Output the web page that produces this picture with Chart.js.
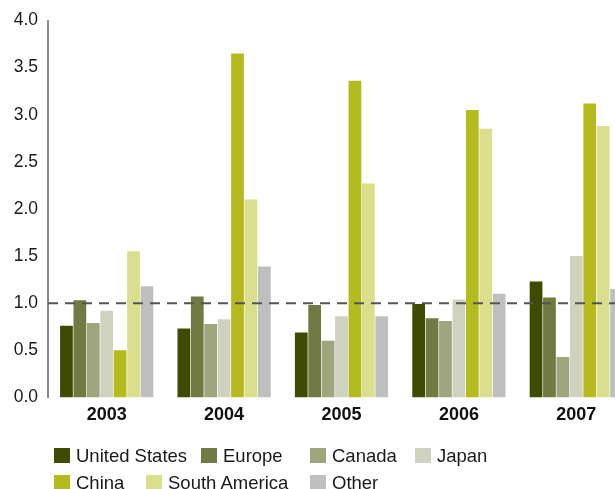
<!DOCTYPE html>
<html>
<head>
<meta charset="utf-8">
<script src="https://cdn.jsdelivr.net/npm/chart.js@4/dist/chart.umd.min.js"></script>
<style>
	html, body { margin: 0; padding: 0; background: #fff; overflow: hidden; width: 615px; height: 489px; }
	#wrap { position: absolute; left: 0; top: 0; width: 650px; height: 437px; }
	#legend { position: absolute; left: 0; top: 0; width: 615px; height: 489px; pointer-events: none;
		font-family: "Liberation Sans", Arial, sans-serif; font-size: 18.5px; color: #1a1a1a; }
	#legend div { position: absolute; white-space: nowrap; line-height: 18px; }
	#legend span { display: inline-block; width: 16px; height: 15px; vertical-align: top; margin-right: 6px; margin-top: 1px; }
</style>
</head>
<body>
<div id="wrap"><canvas id="chart"></canvas></div>
<div id="legend"></div>
<script>
var years = ["2003", "2004", "2005", "2006", "2007"];

var unitedStates = [0.76, 0.73, 0.69, 0.99, 1.23];
var europe       = [1.03, 1.07, 0.98, 0.84, 1.06];
var canada       = [0.79, 0.78, 0.60, 0.81, 0.43];
var japan        = [0.92, 0.83, 0.86, 1.04, 1.50];
var china        = [0.50, 3.65, 3.36, 3.05, 3.12];
var southAmerica = [1.55, 2.10, 2.27, 2.85, 2.88];
var other        = [1.18, 1.39, 0.86, 1.10, 1.15];

var yTicks = [0, 0.5, 1.0, 1.5, 2.0, 2.5, 3.0, 3.5, 4.0];
var refLevel = 1.0;

var font = "'Liberation Sans', Arial, sans-serif";

var series = [
	{label: "United States", data: unitedStates, color: "#404b02"},
	{label: "Europe",        data: europe,       color: "#707a42"},
	{label: "Canada",        data: canada,       color: "#a0a57e"},
	{label: "Japan",         data: japan,        color: "#cfd2be"},
	{label: "China",         data: china,        color: "#b3bb1f"},
	{label: "South America", data: southAmerica, color: "#dadf8e"},
	{label: "Other",         data: other,        color: "#bfbfbf"}
];

// dashed reference line across the plot
var refLine = {
	id: "refLine",
	afterDatasetsDraw: function (chart)
	{
		var ctx = chart.ctx;
		var y = chart.scales.y.getPixelForValue(refLevel);
		ctx.save();
		ctx.strokeStyle = "#555555";
		ctx.lineWidth = 2;
		ctx.setLineDash([10, 7]);
		ctx.beginPath();
		ctx.moveTo(chart.chartArea.left, y);
		ctx.lineTo(chart.width, y);
		ctx.stroke();
		ctx.restore();
	}
};

var chart = new Chart(document.getElementById("chart"), {
	type: "bar",
	data: {
		labels: years,
		datasets: series.map(function (s)
		{
			return {label: s.label, data: s.data, backgroundColor: s.color, borderWidth: 0,
				categoryPercentage: 0.8, barPercentage: 0.95};
		})
	},
	options: {
		responsive: true,
		maintainAspectRatio: false,
		animation: false,
		layout: {padding: {left: 0, right: 15, top: 10, bottom: 4}},
		plugins: {legend: {display: false}, tooltip: {enabled: false}},
		scales: {
			x: {
				grid: {display: false, drawTicks: false},
				border: {display: false},
				ticks: {padding: 7, color: "#111", font: {family: font, size: 18, weight: "bold"}}
			},
			y: {
				min: 0,
				max: 4,
				afterBuildTicks: function (axis) { axis.ticks = yTicks.map(function (v) { return {value: v}; }); },
				afterFit: function (axis) { axis.width = 48; },
				grid: {display: false, drawTicks: false},
				border: {display: true, color: "#888888", width: 2},
				ticks: {
					padding: 10,
					color: "#1a1a1a",
					font: {family: font, size: 17.5},
					callback: function (v) { return Number(v).toFixed(1); }
				}
			}
		}
	},
	plugins: [refLine]
});

// legend as real text, laid out in two rows like the source
var legendSlots = [[54, 447], [201, 447], [310, 447], [415, 447], [54, 474], [146, 474], [310, 474]];
var legend = document.getElementById("legend");
chart.data.datasets.forEach(function (ds, i)
{
	var item = legend.appendChild(document.createElement("div"));
	item.style.left = legendSlots[i][0] + "px";
	item.style.top = legendSlots[i][1] + "px";
	var box = item.appendChild(document.createElement("span"));
	box.style.backgroundColor = ds.backgroundColor;
	item.appendChild(document.createTextNode(ds.label));
});
</script>
</body>
</html>
